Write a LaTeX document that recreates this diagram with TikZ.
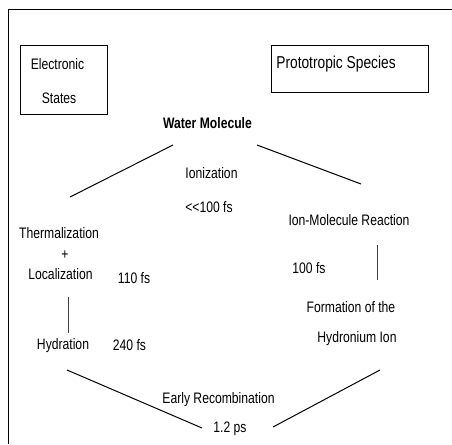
\documentclass[tikz,border=0pt]{standalone}
\usepackage{fontspec}
\setmainfont{Liberation Sans}[FakeStretch=0.8]
\begin{document}
\begin{tikzpicture}[x=1pt,y=-1pt,
  txt/.style={inner sep=0pt, anchor=base, font=\fontsize{15.2}{17}\selectfont},
  bigtxt/.style={inner sep=0pt, anchor=base, font=\fontsize{17.2}{19}\selectfont},
  boxn/.style={draw, line width=0.9pt, inner sep=0pt},
  ln/.style={line width=1pt},
  vln/.style={line width=0.7pt, black!75}]
\useasboundingbox (0,0) rectangle (452,444);
% frame
\coordinate (ftr) at (452,10);
\coordinate (ftl) at (8,10);
\coordinate (fbl) at (8,444);
\draw[ln] (ftr) -- (ftl) -- (fbl);
% boxes
\node[boxn, minimum width=87pt, minimum height=69pt] (esbox) at (63.5,79.5) {};
\node[txt] (elec) at (57.5,70) {Electronic};
\node[txt] (states) at (59,103) {States};
\node[boxn, minimum width=157pt, minimum height=47pt] (ptbox) at (349.5,68.5) {};
\node[bigtxt] (proto) at (336,68) {Prototropic Species};
% labels
\node[txt, font=\fontsize{15.2}{17}\selectfont\bfseries] (water) at (207.5,128) {Water Molecule};
\node[txt] (ion) at (211.5,178) {Ionization};
\node[txt] (t100) at (209,212) {<{}<100 fs};
\node[txt] (imr) at (349,225) {Ion-Molecule Reaction};
\node[txt] (therm) at (59,238) {Thermalization};
\node[txt] (plus) at (65,259) {+};
\node[txt] (loc) at (60.5,279) {Localization};
\node[txt] (t110) at (134,283) {110 fs};
\node[txt] (t100b) at (309,273) {100 fs};
\node[txt] (form) at (351,312) {Formation of the};
\node[txt] (hyd) at (357,342) {Hydronium Ion};
\node[txt] (hydr) at (63,349) {Hydration};
\node[txt] (t240) at (129.5,350) {240 fs};
\node[txt] (early) at (218.5,403) {Early Recombination};
\node[txt] (t12) at (230,432) {1.2 ps};
% connector ends
\coordinate (a1) at (173,145); \coordinate (a2) at (70,197);
\coordinate (b1) at (257,145); \coordinate (b2) at (361,184);
\coordinate (c1) at (377,245); \coordinate (c2) at (377,280);
\coordinate (d1) at (68,297); \coordinate (d2) at (68,333);
\coordinate (e1) at (67,370); \coordinate (e2) at (202,428);
\coordinate (f1) at (380,370); \coordinate (f2) at (273,427);
\draw[ln] (a1) -- (a2);
\draw[ln] (b1) -- (b2);
\draw[vln] (c1) -- (c2);
\draw[vln] (d1) -- (d2);
\draw[ln] (e1) -- (e2);
\draw[ln] (f1) -- (f2);
\end{tikzpicture}
\end{document}
